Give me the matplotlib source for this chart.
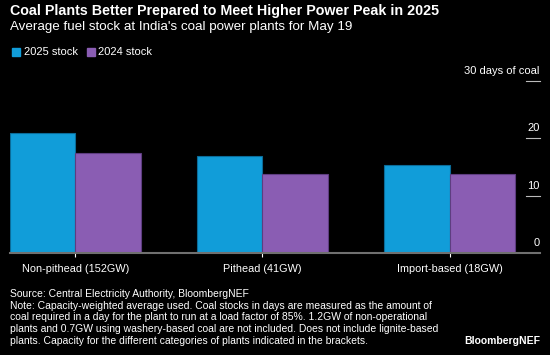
import numpy as np
import matplotlib
matplotlib.use("Agg")
from matplotlib import pyplot as plt
from matplotlib.patches import Rectangle
import matplotlib.transforms as mtransforms

categories = ["Non-pithead (152GW)", "Pithead (41GW)", "Import-based (18GW)"]
stock_2025 = [20.9, 17.0, 15.3]
stock_2024 = [17.5, 13.8, 13.8]
series_names = ["2025 stock", "2024 stock"]
y_ticks = [0, 10, 20, 30]
y_tick_labels = ["0", "10", "20", "30 days of coal"]

BLUE = "#119dd9"
PURPLE = "#8a5db3"
plt.rcParams["font.family"] = ["Liberation Sans", "DejaVu Sans"]

fig = plt.figure(figsize=(5.5, 3.55), dpi=100, facecolor="black")
ax = fig.add_axes([10 / 550, (355 - 253.3) / 355, 529.5 / 550, (253.3 - 80.8) / 355])
ax.set_facecolor("black")

x = np.arange(len(categories))
w = 0.35
ax.bar(x - w / 2, stock_2025, w, color=BLUE, edgecolor="#0b6c99", linewidth=0.8)
ax.bar(x + w / 2, stock_2024, w, color=PURPLE, edgecolor="#5e3d80", linewidth=0.8)

ax.set_xlim(-0.349, 2.481)
ax.set_ylim(0, 30)
for s in ["top", "left", "right"]:
    ax.spines[s].set_visible(False)
ax.spines["bottom"].set_color("#707070")
ax.spines["bottom"].set_linewidth(1.5)
ax.set_zorder(1)

ax.set_xticks(x)
ax.set_xticklabels(categories, color="white", fontsize=7.85)
ax.tick_params(axis="x", colors="white", length=3, width=0.8, pad=5, labelcolor="white")
ax.set_yticks([])

# right-side value ticks with labels sitting above short lines
trans = mtransforms.blended_transform_factory(ax.transAxes, ax.transData)
for v, lab in zip(y_ticks, y_tick_labels):
    if v > 0:
        ax.plot([0.975, 1.0], [v, v], color="#bbbbbb", lw=0.8, transform=trans, clip_on=False)
    ax.text(1.0, v + 0.9, lab, color="white", fontsize=8, ha="right", va="bottom",
            transform=trans, clip_on=False)

# title, subtitle, legend
fig.text(10 / 550, 1 - 10.5 / 355, "Coal Plants Better Prepared to Meet Higher Power Peak in 2025",
         color="white", fontsize=10.25, fontweight="bold", va="center", ha="left")
fig.text(10 / 550, 1 - 27 / 355, "Average fuel stock at India's coal power plants for May 19",
         color="white", fontsize=9.6, va="center", ha="left")
for px, col, name in [(12, BLUE, series_names[0]), (87, PURPLE, series_names[1])]:
    fig.patches.append(Rectangle((px / 550, 1 - 55.5 / 355), 7.5 / 550, 7.5 / 355,
                                 transform=fig.transFigure, color=col))
    fig.text((px + 11.5) / 550, 1 - 51.7 / 355, name, color="white", fontsize=8,
             va="center", ha="left")

# footer
note = ("Source: Central Electricity Authority, BloombergNEF\n"
        "Note: Capacity-weighted average used. Coal stocks in days are measured as the amount of\n"
        "coal required in a day for the plant to run at a load factor of 85%. 1.2GW of non-operational\n"
        "plants and 0.7GW using washery-based coal are not included. Does not include lignite-based\n"
        "plants. Capacity for the different categories of plants indicated in the brackets.")
fig.text(10 / 550, 1 - 289 / 355, note, color="white", fontsize=7.5, va="top", ha="left",
         linespacing=1.21)
fig.text(540 / 550, 1 - 341 / 355, "BloombergNEF", color="white", fontsize=7.5,
         fontweight="bold", va="center", ha="right")

fig.savefig("out.png", dpi=100, facecolor="black")
